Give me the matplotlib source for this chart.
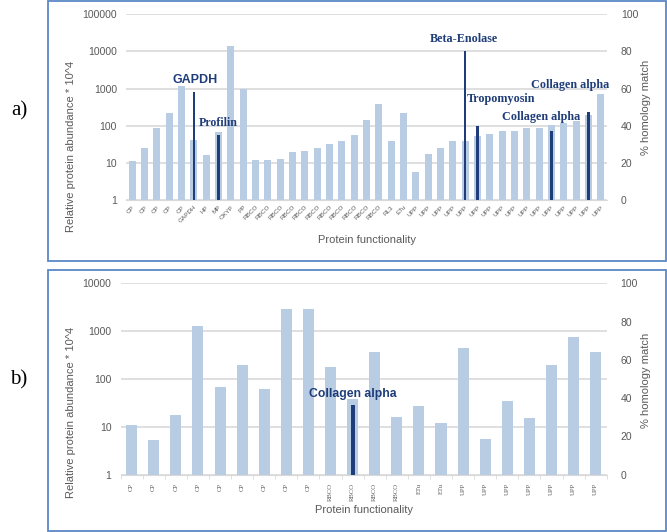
import matplotlib.pyplot as plt
import numpy as np
from matplotlib.patches import Rectangle

# ---- data ----
top_labels = (['CP'] * 5 + ['GAPDH', 'HP', 'MP', 'OXYP', 'PP'] + ['RBCO'] * 11
              + ['RL3', 'ETu'] + ['UPP'] * 16)
top_abundance = [11, 26, 85, 220, 1200, 42, 16, 68, 14000, 950,
                 12, 12, 13, 20, 21, 25, 33, 38, 55, 145, 380,
                 39, 223,
                 5.6, 18, 25, 39, 40, 54, 61, 72, 72, 85, 89, 103, 120, 135, 200, 735]
top_match_idx = [5, 7, 27, 28, 34, 37]
top_match_pct = [58, 35, 80, 40, 37, 47.5]
top_match_names = ['GAPDH', 'Profilin', 'Beta-Enolase', 'Tropomyosin',
                   'Collagen alpha', 'Collagen alpha']

bottom_labels = ['CP'] * 9 + ['RBCO'] * 4 + ['ETu'] * 2 + ['UPP'] * 7
bottom_abundance = [11, 5.3, 18, 1300, 69, 195, 61, 2900, 2900,
                    175, 38, 366, 16, 27, 11.8,
                    437, 5.6, 35, 15.5, 193, 745, 366]
bottom_match_idx = [10]
bottom_match_pct = [36.6]
bottom_match_names = ['Collagen alpha']

LIGHT = '#B8CCE4'
DARK = '#1F3D78'
GRID = '#D9D9D9'
TXT = '#595959'
BORDER = '#5A88C6'
SANS = 'Liberation Sans'
SERIF = 'Liberation Serif'

W, H = 667, 532
fig = plt.figure(figsize=(W / 100, H / 100), dpi=100)


def px_axes(x0, y0, x1, y1):
    return fig.add_axes([x0 / W, 1 - y1 / H, (x1 - x0) / W, (y1 - y0) / H])


def panel(ax, labels, values, idx, pct, names, ylim_top, bar_w, line_w,
          label_styles, rot, tick_font, tick_size):
    x = np.arange(len(labels))
    ax.set_yscale('log')
    ax.set_ylim(1, ylim_top)
    ax.set_xlim(-0.5, len(labels) - 0.5)
    ax.yaxis.grid(True, color=GRID, lw=1.2, zorder=0)
    ax.set_axisbelow(True)
    ax.bar(x, values, width=bar_w, color=LIGHT, zorder=2)
    ax.minorticks_off()
    ax.set_yticks([10 ** k for k in range(int(np.log10(ylim_top)) + 1)])
    ax.set_yticklabels([str(10 ** k) for k in range(int(np.log10(ylim_top)) + 1)])
    ax.tick_params(axis='y', length=0, pad=6.5, labelsize=7.5, labelcolor=TXT)
    for s in ['top', 'left', 'right']:
        ax.spines[s].set_visible(False)
    ax.spines['bottom'].set_color(GRID)
    ax.set_xticks(x)
    if rot == 45:
        ax.set_xticklabels(labels, rotation=45, ha='right', rotation_mode='anchor',
                           fontsize=tick_size, color=TXT, family=tick_font)
        ax.tick_params(axis='x', length=0, pad=3)
    else:
        ax.set_xticklabels(labels, rotation=90, ha='center', va='top',
                           fontsize=tick_size, color=TXT, family=tick_font)
        ax.tick_params(axis='x', length=0, pad=6)
        ax.set_xticks(np.arange(len(labels) + 1) - 0.5, minor=True)
        ax.tick_params(axis='x', which='minor', length=3, color=GRID)
    for lab in ax.get_yticklabels():
        lab.set_family(SANS)

    ax2 = ax.twinx()
    ax2.set_ylim(0, 100)
    ax2.set_yticks(range(0, 101, 20))
    ax2.tick_params(axis='y', length=0, pad=10, labelsize=7.5, labelcolor=TXT)
    for lab in ax2.get_yticklabels():
        lab.set_family(SANS)
    for s in ax2.spines.values():
        s.set_visible(False)
    ax2.bar(idx, pct, width=line_w, color=DARK, zorder=3)
    for i, p, name, (dx, dy, fam, size) in zip(idx, pct, names, label_styles):
        ax2.text(i + dx, p + dy, name, ha='center', va='center', color=DARK,
                 fontsize=size, fontweight='bold', family=fam)
    return ax2


# ---- panel a ----
ax_a = px_axes(126.1, 14, 606.9, 200.3)
styles_a = [(0.1, 6.6, SANS, 9), (0.0, 6.5, SERIF, 8.6), (-0.1, 6.6, SERIF, 8.7),
            (1.9, 14.3, SERIF, 8.7), (-0.8, 7.7, SERIF, 8.7), (-1.5, 14.3, SERIF, 8.7)]
ax_a2 = panel(ax_a, top_labels, top_abundance, top_match_idx, top_match_pct,
              top_match_names, 100000, 0.58, 0.2, styles_a, 45, SANS, 4.6)
ax_a.set_xlabel('Protein functionality', fontsize=8, color=TXT, family=SANS)
ax_a.xaxis.set_label_coords(0.5, -0.213)
ax_a.xaxis.label.set_va('center')
ax_a.set_ylabel('Relative protein abundance * 10^4', fontsize=8, color=TXT, family=SANS)
ax_a.yaxis.label.set_va('center')
ax_a.yaxis.set_label_coords(-0.114, 0.29)
ax_a2.set_ylabel('% homology match', fontsize=8, color=TXT, family=SANS)
ax_a2.yaxis.label.set_va('center')
ax_a2.yaxis.set_label_coords(1.081, 0.5)

# ---- panel b ----
ax_b = px_axes(120.6, 283.3, 606.7, 474.7)
styles_b = [(0.0, 5.6, SANS, 8.8)]
ax_b2 = panel(ax_b, bottom_labels, bottom_abundance, bottom_match_idx, bottom_match_pct,
              bottom_match_names, 10000, 0.5, 0.18, styles_b, 90, SERIF, 4.8)
ax_b.set_xlabel('Protein functionality', fontsize=8, color=TXT, family=SANS)
ax_b.xaxis.set_label_coords(0.5, -0.184)
ax_b.xaxis.label.set_va('center')
ax_b.set_ylabel('Relative protein abundance * 10^4', fontsize=8, color=TXT, family=SANS)
ax_b.yaxis.label.set_va('center')
ax_b.yaxis.set_label_coords(-0.102, 0.325)
ax_b2.set_ylabel('% homology match', fontsize=8, color=TXT, family=SANS)
ax_b2.yaxis.label.set_va('center')
ax_b2.yaxis.set_label_coords(1.081, 0.495)

# ---- frames and panel letters ----
for y0, y1 in [(1, 261), (270, 530.5)]:
    fig.add_artist(Rectangle((48 / W, 1 - y1 / H), (665.5 - 48) / W, (y1 - y0) / H,
                             transform=fig.transFigure, fill=False,
                             edgecolor=BORDER, lw=1.3))
fig.text(19 / W, 1 - 111 / H, 'a)', ha='center', va='center', fontsize=15, family=SERIF)
fig.text(19 / W, 1 - 380 / H, 'b)', ha='center', va='center', fontsize=15, family=SERIF)

fig.savefig('out.png', dpi=100)
